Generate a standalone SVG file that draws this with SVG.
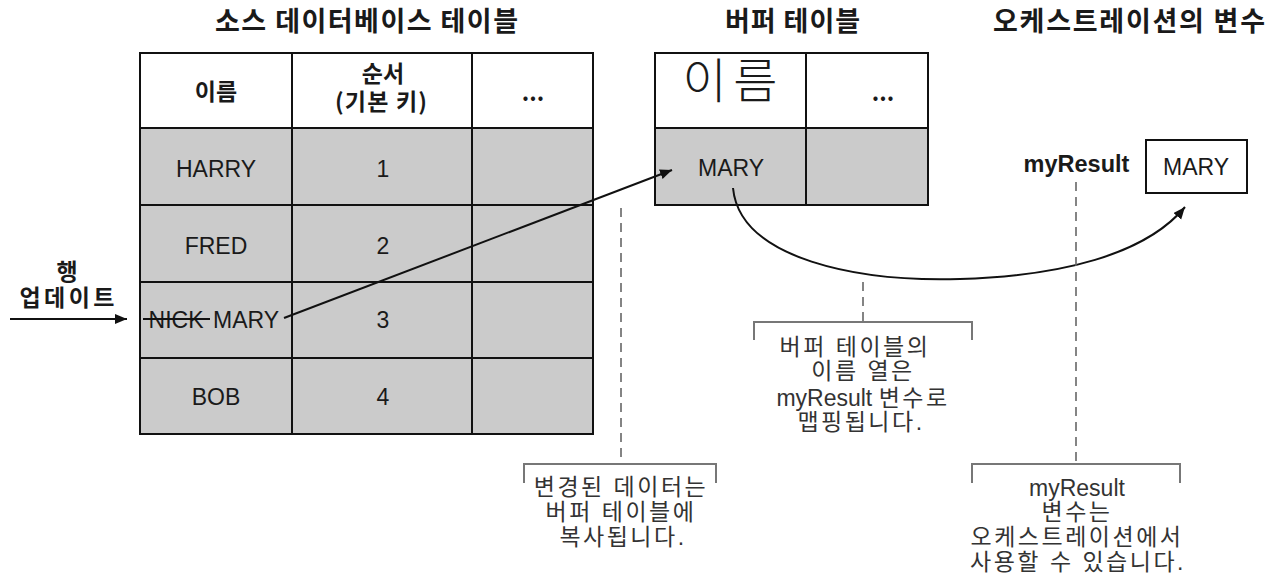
<svg xmlns="http://www.w3.org/2000/svg" width="1279" height="577" viewBox="0 0 1279 577">
  <style>
    .title { font-family: "Noto Sans CJK KR", "Noto Sans", sans-serif; font-weight: bold; font-size: 27px; fill: #1a1a1a; text-anchor: middle; }
    .hdr { font-family: "Noto Sans CJK KR", "Liberation Sans", sans-serif; font-weight: bold; font-size: 23px; fill: #1a1a1a; text-anchor: middle; }
    .cell { font-family: "Liberation Sans", "Noto Sans CJK KR", sans-serif; font-size: 23px; fill: #1a1a1a; text-anchor: middle; }
    .var { font-family: "Liberation Sans", "Noto Sans CJK KR", sans-serif; font-weight: bold; font-size: 23.5px; fill: #1a1a1a; text-anchor: middle; }
    .note { font-family: "Liberation Sans", "Noto Sans CJK KR", sans-serif; font-size: 23px; fill: #333; text-anchor: middle; letter-spacing: 2.5px; }
    .lat { letter-spacing: 0; }
    .grid { fill: none; stroke: #111; stroke-width: 2; }
    .white { fill: #fff; }
    .gray { fill: #cbcbcb; }
    .conn { fill: none; stroke: #111; stroke-width: 2; }
    .dash { fill: none; stroke: #666; stroke-width: 1.6; stroke-dasharray: 9 6; }
    .brk { fill: none; stroke: #777; stroke-width: 2; }
  </style>
  <defs>
    <marker id="ah" markerUnits="userSpaceOnUse" markerWidth="14" markerHeight="12" refX="12" refY="5" orient="auto">
      <path d="M0,0 L12,5 L0,10 z" fill="#111"/>
    </marker>
  </defs>
  <rect width="1279" height="577" fill="#fff"/>

  <g id="titles">
    <text class="title" x="366.5" y="31" textLength="303">소스 데이터베이스 테이블</text>
    <text class="title" x="792.5" y="31" textLength="135">버퍼 테이블</text>
    <text class="title" x="1129" y="31" textLength="272">오케스트레이션의 변수</text>
  </g>

  <g id="source-table">
    <rect class="white" x="140" y="53" width="453" height="75"/>
    <rect class="gray" x="140" y="128" width="453" height="306"/>
    <rect class="grid" x="140" y="53" width="453" height="381"/>
    <path class="grid" d="M140,128 H593 M140,205 H593 M140,282 H593 M140,358 H593 M292,53 V434 M472,53 V434"/>
    <text class="hdr" x="216" y="100">이름</text>
    <text class="hdr" x="383" y="82" font-size="22">순서</text>
    <text class="hdr" x="381" y="110" font-size="22" textLength="92">(기본 키)</text>
    <text class="hdr" x="533" y="101">...</text>
    <text class="cell" x="216" y="177">HARRY</text>
    <text class="cell" x="383" y="177">1</text>
    <text class="cell" x="216" y="254">FRED</text>
    <text class="cell" x="383" y="254">2</text>
    <text class="cell" x="176" y="328">NICK</text>
    <line x1="143" y1="319" x2="210" y2="319" stroke="#111" stroke-width="2"/>
    <text class="cell" x="246" y="328">MARY</text>
    <text class="cell" x="383" y="328">3</text>
    <text class="cell" x="216" y="405">BOB</text>
    <text class="cell" x="383" y="405">4</text>
  </g>

  <g id="row-update">
    <text class="hdr" x="67" y="280" font-size="22">행</text>
    <text class="hdr" x="67" y="306" font-size="22" textLength="95">업데이트</text>
  </g>

  <g id="buffer-table">
    <rect class="white" x="655" y="53" width="273" height="75"/>
    <rect class="gray" x="655" y="128" width="273" height="77"/>
    <rect class="grid" x="655" y="53" width="273" height="152"/>
    <path class="grid" d="M655,128 H928 M806,53 V205"/>
    <text x="730" y="98" font-family="Noto Sans CJK KR, sans-serif" font-size="48" font-weight="300" fill="#1a1a1a" text-anchor="middle" textLength="95">이름</text>
    <text class="hdr" x="883" y="101">...</text>
    <text class="cell" x="731" y="176">MARY</text>
  </g>

  <g id="variable">
    <text class="var" x="1076.5" y="172">myResult</text>
    <rect x="1146" y="140" width="101" height="53" fill="#fff" stroke="#111" stroke-width="2"/>
    <text class="cell" x="1196" y="175">MARY</text>
  </g>

  <g id="connectors">
    <line class="conn" x1="10" y1="319" x2="127" y2="319" marker-end="url(#ah)"/>
    <line class="conn" x1="284" y1="318" x2="672" y2="170" marker-end="url(#ah)"/>
    <path class="conn" d="M733,188 C740,260 860,282 960,279 C1060,276 1145,255 1185,207" marker-end="url(#ah)"/>
    <line class="dash" x1="621" y1="208" x2="621" y2="463"/>
    <line class="dash" x1="863" y1="282" x2="863" y2="321"/>
    <line class="dash" x1="1076" y1="182" x2="1076" y2="463"/>
    <path class="brk" d="M524,483 V464 H716 V483"/>
    <path class="brk" d="M754,340 V322 H972 V340"/>
    <path class="brk" d="M972,483 V464 H1180 V483"/>
  </g>

  <g id="note-copy">
    <text class="note" x="621" y="495">변경된 데이터는</text>
    <text class="note" x="621" y="520">버퍼 테이블에</text>
    <text class="note" x="623" y="545">복사됩니다.</text>
  </g>

  <g id="note-map">
    <text class="note" x="855" y="355">버퍼 테이블의</text>
    <text class="note" x="863" y="379">이름 열은</text>
    <text class="note" x="863" y="406"><tspan class="lat">myResult </tspan>변수로</text>
    <text class="note" x="861" y="430">맵핑됩니다.</text>
  </g>

  <g id="note-use">
    <text class="note lat" x="1077" y="496">myResult</text>
    <text class="note" x="1077" y="520">변수는</text>
    <text class="note" x="1077" y="545">오케스트레이션에서</text>
    <text class="note" x="1078" y="570">사용할 수 있습니다.</text>
  </g>
</svg>
